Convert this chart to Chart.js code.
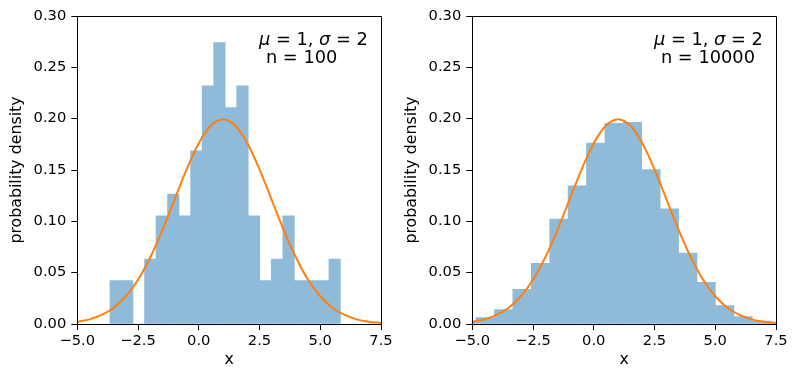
<!DOCTYPE html>
<html><head><meta charset="utf-8">
<script src="https://cdn.jsdelivr.net/npm/chart.js@4/dist/chart.umd.min.js"></script>
<style>
html,body{margin:0;padding:0;background:#fff;}
#wrap{position:relative;width:798px;height:379px;overflow:hidden;background:#fff;}
.c{position:absolute;top:0;width:399px;height:379px;}
</style></head><body>
<div id="wrap">
<div class="c" style="left:0"><canvas id="c1" width="399" height="379"></canvas></div>
<div class="c" style="left:395px"><canvas id="c2" width="399" height="379"></canvas></div>
</div>
<script>
// ---- data ----
const xTicks = [-5, -2.5, 0, 2.5, 5, 7.5];
const yTicks = [0, 0.05, 0.10, 0.15, 0.20, 0.25, 0.30];

// left panel: n = 100, 20 bins
const binCenters100 = [-3.420,-2.946,-2.471,-1.997,-1.523,-1.048,-0.574,-0.100,0.375,0.849,
                       1.323,1.798,2.272,2.746,3.221,3.695,4.169,4.644,5.118,5.592];
const density100 = [0.0422,0.0422,0,0.0633,0.1054,0.1265,0.1054,0.1687,0.2319,0.2741,
                    0.2108,0.2319,0.1054,0.0422,0.0633,0.1054,0.0422,0.0422,0.0422,0.0633];

// right panel: n = 10000 (bins visible inside the axes)
const binCenters10000 = [-5.227,-4.469,-3.711,-2.953,-2.195,-1.437,-0.679,0.079,0.837,1.595,
                         2.353,3.111,3.869,4.627,5.385,6.143,6.901,7.659];
const density10000 = [0.0029,0.0062,0.0141,0.0337,0.0592,0.1023,0.1346,0.1761,0.1954,0.1964,
                      0.1503,0.1121,0.0690,0.0405,0.0180,0.0072,0.0029,0.0011];

// normal curve (mu = 1, sigma = 2)
const curveX = [-5,-4.5,-4,-3.5,-3,-2.5,-2,-1.5,-1,-0.5,0,0.5,1,1.5,2,2.5,3,3.5,4,4.5,5,5.5,6,6.5,7,7.5];
const curveY = [0.0022,0.0045,0.0088,0.0159,0.0270,0.0431,0.0648,0.0913,0.1210,0.1506,0.1760,0.1933,0.1995,
                0.1933,0.1760,0.1506,0.1210,0.0913,0.0648,0.0431,0.0270,0.0159,0.0088,0.0045,0.0022,0.0010];

const label1 = [{t:'μ',i:true},{t:' = 1, '},{t:'σ',i:true},{t:' = 2'}];
const labelN100 = 'n = 100';
const labelN10000 = 'n = 10000';

// ---- styling ----
const FONT = "'DejaVu Sans', sans-serif";
const FS_TICK = 14.7;
const FS_TITLE = 15.8;
const FS_ANN = 17.8;
const BAR = '#8fbbd9';
const LINE = '#ff7f0e';

function alignPx(p){ return Math.round(p - 0.5) + 0.5; }

const framePlugin = {
  id:'frame',
  afterDraw(chart){
    const {ctx, chartArea:a} = chart;
    ctx.save();
    ctx.strokeStyle = '#000'; ctx.lineWidth = 1;
    const l = alignPx(a.left), r = alignPx(a.right), t = alignPx(a.top), b = alignPx(a.bottom);
    ctx.beginPath();
    ctx.moveTo(l,b); ctx.lineTo(l,t); ctx.lineTo(r,t); ctx.lineTo(r,b); ctx.closePath();
    ctx.stroke();
    // annotation
    const opt = chart.options.plugins.frame || {};
    const x0 = a.left + 0.598*(a.right - a.left);
    let x = x0;
    const y1 = a.top + 28.5, y2 = a.top + 47;
    ctx.fillStyle = '#000';
    ctx.textBaseline = 'alphabetic';
    ctx.textAlign = 'left';
    for (const seg of label1) {
      ctx.font = (seg.i ? 'italic ' : '') + FS_ANN + 'px ' + FONT;
      ctx.fillText(seg.t, x, y1);
      x += ctx.measureText(seg.t).width;
    }
    ctx.font = FS_ANN + 'px ' + FONT;
    ctx.fillText(opt.nText || '', x0 + 7, y2);
    ctx.restore();
  }
};

function fmtX(v){ return (v < 0 ? '\u2212' : '') + Math.abs(v).toFixed(1); }
function fmtY(v){ return v.toFixed(2); }

function make(id, centers, dens, nText){
  const barData = centers.map((c,i)=>({x:c, y:dens[i]}));
  const lineData = curveX.map((c,i)=>({x:c, y:curveY[i]}));
  return new Chart(document.getElementById(id), {
    type:'bar',
    data:{datasets:[
      {type:'line', data:lineData, borderColor:LINE, borderWidth:2, pointRadius:0,
       cubicInterpolationMode:'monotone', fill:false, order:0},
      {type:'bar', data:barData, backgroundColor:BAR, borderWidth:0,
       barPercentage:1, categoryPercentage:1, order:1}
    ]},
    options:{
      responsive:false, animation:false, devicePixelRatio:1,
      layout:{padding:{left:0, right:18, top:16, bottom:0}},
      plugins:{legend:{display:false}, tooltip:{enabled:false}, frame:{nText}},
      scales:{
        x:{type:'linear', min:-5, max:7.5, offset:false,
          grid:{display:true, offset:false, drawOnChartArea:false, drawTicks:true, tickLength:6,
                color:'#000', tickColor:'#000', tickWidth:1},
          border:{display:true, color:'#000', width:1},
          ticks:{autoSkip:false, maxRotation:0, padding:2, color:'#000', font:{family:FONT, size:FS_TICK}, callback:fmtX},
          title:{display:true, text:'x', color:'#000', font:{family:FONT, size:FS_TITLE}, padding:{top:0, bottom:9.5}},
          afterBuildTicks:s=>{ s.ticks = xTicks.map(v=>({value:v})); },
          afterFit:s=>{ s.height = 55; }
        },
        y:{type:'linear', min:0, max:0.3,
          grid:{display:true, drawOnChartArea:false, drawTicks:true, tickLength:6,
                color:'#000', tickColor:'#000', tickWidth:1},
          border:{display:true, color:'#000', width:1},
          ticks:{autoSkip:false, padding:5, color:'#000', font:{family:FONT, size:FS_TICK}, callback:fmtY},
          title:{display:true, text:'probability density', color:'#000', font:{family:FONT, size:FS_TITLE}, padding:{top:7, bottom:0}},
          afterBuildTicks:s=>{ s.ticks = yTicks.map(v=>({value:v})); },
          afterFit:s=>{ s.width = 77.3; }
        }
      }
    },
    plugins:[framePlugin]
  });
}

make('c1', binCenters100, density100, labelN100);
make('c2', binCenters10000, density10000, labelN10000);
</script>
</body></html>
